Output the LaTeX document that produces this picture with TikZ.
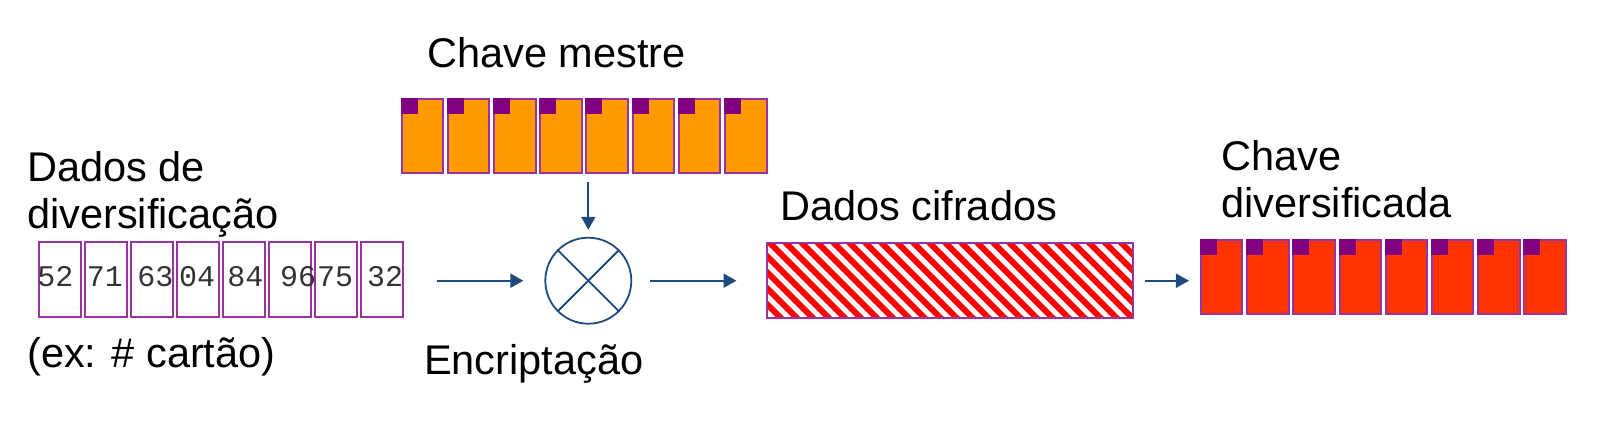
\documentclass[tikz,border=0pt]{standalone}
\usepackage{fontspec}
\setmainfont{Liberation Sans}
\newfontfamily\digitfont{Liberation Mono}
\usetikzlibrary{arrows.meta,patterns.meta,positioning}
\definecolor{keyorange}{HTML}{FF9900}
\definecolor{keyred}{HTML}{FF3300}
\definecolor{boxpurple}{HTML}{9933A0}
\definecolor{cornerpurple}{HTML}{800080}
\definecolor{flowblue}{HTML}{1F4A7E}

\begin{document}
\begin{tikzpicture}[x=1pt,y=-1pt,
    labeltext/.style={font=\fontsize{41.5}{46.5}\selectfont, anchor=base west, inner sep=0pt, align=left},
    bytebox/.style={draw=boxpurple, line width=2pt, minimum width=41.5pt, minimum height=74.5pt, inner sep=0pt},
    digit/.style={font=\digitfont\fontsize{30}{30}\selectfont, text=black!80, anchor=base, inner sep=0pt},
    flow/.style={-{Triangle[length=13pt,width=14pt]}, line width=1.8pt, draw=flowblue}]
        \useasboundingbox (0,0) rectangle (1600,432);
        % Diversification data bytes
        \foreach \i in {1,...,8}
            \node[bytebox] (d\i) at ({59.8+46.06*(\i-1)},279.5) {};
        \foreach \i/\x/\v in {1/55.3/52,2/105/71,3/155.3/63,4/197/04,5/245.3/84,6/298/96,7/335/75,8/385/32}
            \node[digit] (n\i) at (\x,286) {\v};
        % Master key
        \foreach \i in {1,...,8} {
            \node[bytebox, fill=keyorange] (k\i) at ({422.4+46.2*(\i-1)},135.9) {};
            \fill[cornerpurple] (k\i.north west) rectangle ++(17,16);
        }
        % Encryption
        \node[circle, draw=flowblue, line width=1.8pt, minimum size=86pt, inner sep=0pt] (enc) at (588.3,280.7) {};
        \draw[flowblue, line width=1.8pt] (enc.north west) -- (enc.south east);
        \draw[flowblue, line width=1.8pt] (enc.north east) -- (enc.south west);
        % Ciphered data
        \node[draw=boxpurple, line width=2pt, minimum width=366pt, minimum height=75pt,
              pattern={Lines[angle=-45,distance=11.3pt,line width=6pt]}, pattern color=red] (cif) at (949.5,280) {};
        % Diversified key
        \foreach \i in {1,...,8} {
            \node[bytebox, fill=keyred] (r\i) at ({1221.7+46.2*(\i-1)},277) {};
            \fill[cornerpurple] (r\i.north west) rectangle ++(17,16);
        }
        % Arrows
        \draw[flow, shorten <=33pt, shorten >=21pt] (d8.east |- enc) -- (enc.west);
        \draw[flow, shorten <=8pt, shorten >=7pt] (enc |- k1.south) -- (enc.north);
        \draw[flow, shorten <=18pt, shorten >=27pt] (enc.east) -- (cif.west |- enc);
        \draw[flow, shorten <=9pt, shorten >=11pt] (cif.east |- enc) -- (r1.west |- enc);
        % Labels
        \node[labeltext] (dados) at (27,228) {Dados de\\diversificação};
        \node[labeltext] (ex) at (27,367) {(ex: \# cartão)};
        \node[labeltext] (mestre) at (427,67.7) {Chave mestre};
        \node[labeltext] (encl) at (424,374.5) {Encriptação};
        \node[labeltext] (cifl) at (780,220) {Dados cifrados};
        \node[labeltext] (divl) at (1221,217) {Chave\\diversificada};
\end{tikzpicture}
\end{document}
